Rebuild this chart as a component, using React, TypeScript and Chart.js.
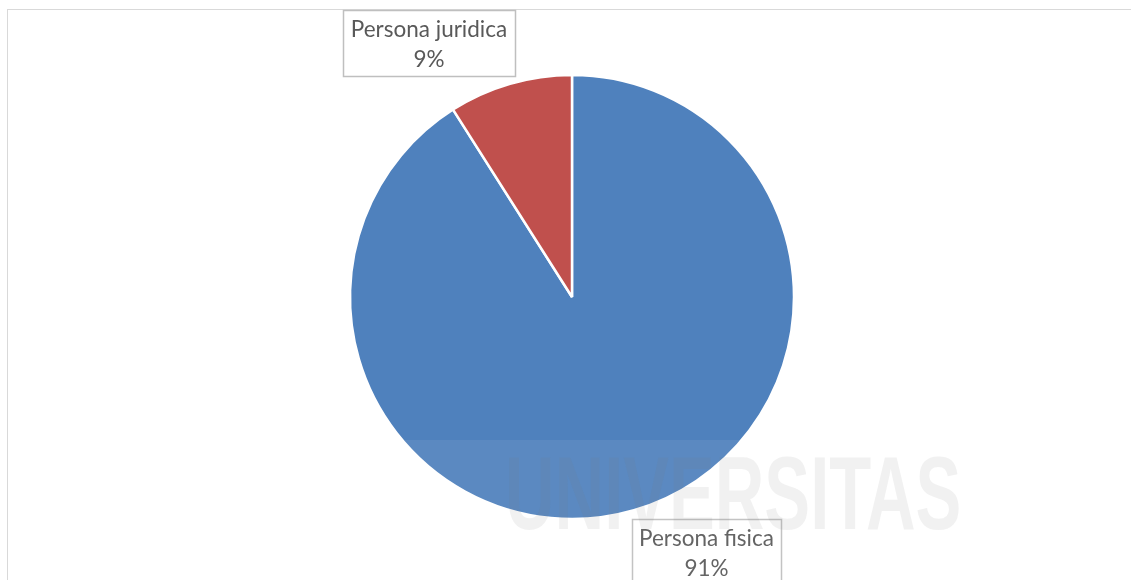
import React, { useEffect, useRef } from "react";
import { Chart, registerables } from "chart.js";

Chart.register(...registerables);

const categories = ["Persona fisica", "Persona juridica"];
const values = [91, 9];
const colors = ["#4F81BD", "#C0504D"];

// label boxes (page layout), keyed by category index
const labelBoxes = [
  { x: 632, y: 519, w: 149, h: 70 },
  { x: 343, y: 10, w: 172, h: 66 },
];

const FONT = "Lato, 'Open Sans', sans-serif";

const labelPlugin = {
  id: "boxLabels",
  afterDraw(chart: any) {
    const ctx = chart.ctx;
    const total = values.reduce((a, b) => a + b, 0);
    ctx.save();
    categories.forEach((cat, i) => {
      const b = labelBoxes[i];
      ctx.fillStyle = "#ffffff";
      ctx.fillRect(b.x, b.y, b.w, b.h);
      ctx.strokeStyle = "#bfbfbf";
      ctx.lineWidth = 1.5;
      ctx.strokeRect(b.x + 0.5, b.y + 0.5, b.w, b.h);
      ctx.fillStyle = "#595959";
      ctx.font = `22.5px ${FONT}`;
      ctx.textAlign = "center";
      ctx.textBaseline = "alphabetic";
      const cx = b.x + b.w / 2;
      ctx.fillText(cat, cx, b.y + 27);
      ctx.fillText(Math.round((values[i] / total) * 100) + "%", cx, b.y + 57);
    });
    ctx.restore();
  },
};

export default function App() {
  const ref = useRef<HTMLCanvasElement | null>(null);
  useEffect(() => {
    document.body.style.overflow = "hidden";
    const chart = new Chart(ref.current!, {
      type: "pie",
      data: {
        labels: categories,
        datasets: [
          {
            data: values,
            backgroundColor: colors,
            borderColor: "#ffffff",
            borderWidth: 2.5,
          },
        ],
      },
      options: {
        responsive: false,
        animation: false,
        radius: 222,
        layout: { padding: { left: 13, top: 14, right: 0, bottom: 0 } },
        plugins: {
          legend: { display: false },
          tooltip: { enabled: false },
        },
      } as any,
      plugins: [labelPlugin],
    });
    return () => chart.destroy();
  }, []);

  return (
    <div>
      <div
        style={{
          position: "absolute",
          left: 7,
          top: 9,
          width: 1124,
          height: 571,
          borderTop: "1px solid #d9d9d9",
          borderLeft: "1px solid #d9d9d9",
          boxSizing: "border-box",
        }}
      />
      <canvas
        ref={ref}
        width={1131}
        height={580}
        style={{ position: "absolute", left: 0, top: 0 }}
      />
      <div
        style={{
          position: "absolute",
          left: 175,
          top: 440,
          width: 800,
          height: 140,
          background: "rgba(255,255,255,0.07)",
          pointerEvents: "none",
          overflow: "hidden",
        }}
      >
        <div
          style={{
            position: "absolute",
            left: 330,
            top: 1,
            fontFamily: "'Liberation Sans', sans-serif",
            fontWeight: 700,
            fontSize: 104,
            lineHeight: "104px",
            color: "rgba(120,120,120,0.10)",
            transform: "scaleX(0.66)",
            transformOrigin: "left top",
            whiteSpace: "nowrap",
          }}
        >
          UNIVERSITAS
        </div>
      </div>
    </div>
  );
}
